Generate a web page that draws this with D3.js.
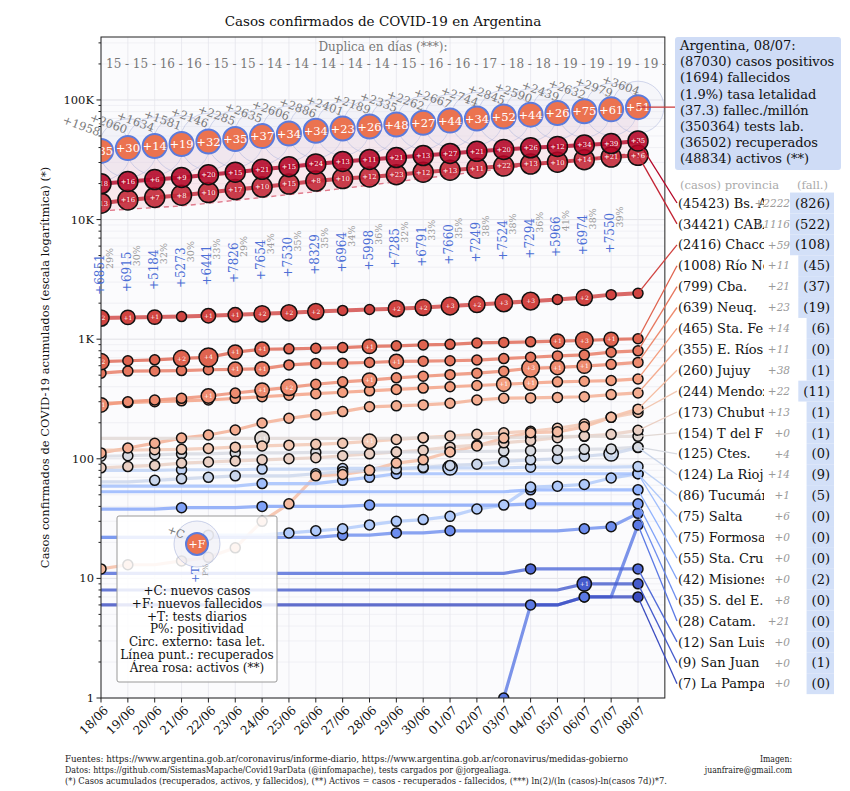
<!DOCTYPE html>
<html><head><meta charset="utf-8">
<script src="https://cdn.jsdelivr.net/npm/d3@7"></script>
<style>body{margin:0;background:#fff} svg{font-family:"DejaVu Serif",serif}</style>
</head><body><svg id="c" width="850" height="791"></svg>
<script>
// ---------------- DATA ----------------
const dates = ["18/06","19/06","20/06","21/06","22/06","23/06","24/06","25/06","26/06","27/06","28/06","29/06","30/06","01/07","02/07","03/07","04/07","05/07","06/07","07/07","08/07"];
const totalCases = [37510,39570,41204,42785,44931,47216,49851,52457,55343,57744,59933,62268,64530,67197,69941,72786,75376,77815,80447,83426,87030];
const newCases = [1958,2060,1634,1581,2146,2285,2635,2606,2886,2401,2189,2335,2262,2667,2744,2845,2590,2439,2632,2979,3604];
const newDeaths = [35,30,14,19,32,35,37,34,34,23,26,48,27,44,34,52,44,26,75,61,51];
const totalDeaths = [948,978,992,1011,1043,1078,1115,1149,1183,1206,1232,1280,1307,1351,1385,1437,1481,1507,1582,1643,1694];
const recovered = [11800,12200,12600,13000,13700,14500,15300,16200,17100,18200,19400,20700,22100,23500,25100,26700,28300,29900,31500,33900,36502];
const dailyTests = [6851,6915,5184,5273,6441,7826,7654,7530,8329,6964,5998,7285,6791,7660,7249,7524,7294,5966,6974,7550,null];
const doublingDays = [15,15,16,16,15,15,14,14,14,14,14,15,16,16,17,18,18,19,19,19,19];
const testsLab = 350364;
const population = 45376763;

const provNames = ["Bs. As.","CABA","Chaco","Río Negro","Cba.","Neuq.","Sta. Fe","E. Ríos","Jujuy","Mendoza","Chubut","T del F","Ctes.","La Rioja","Tucumán","Salta","Formosa","Sta. Cruz","Misiones","S. del E.","Catam.","San Luis","San Juan","La Pampa"];
const provDeathsTotal = [826,522,108,45,37,19,6,0,1,11,1,1,0,9,5,0,0,0,2,0,0,0,1,0];

const pba = [19900,20800,21600,22500,23700,24900,26300,27700,29200,30600,31800,33000,34300,35700,37200,38600,39800,40900,42000,43201,45423];
const caba = [13700,14600,15300,16000,16800,17800,18700,19800,21000,22000,22700,23700,24900,25900,26900,28000,29100,30200,31700,33305,34421];
const chaco = [1500,1520,1530,1545,1570,1600,1630,1660,1700,1740,1770,1800,1840,1890,1950,2010,2080,2150,2230,2357,2416];
const rioNegro = [648,660,672,690,705,780,824,830,840,850,870,880,895,905,930,940,950,962,975,997,1008];
const cordoba = [520,541,543,546,555,560,565,609,627,630,638,651,655,660,669,688,706,725,739,778,799];
const neuquen = [282,300,310,320,335,355,375,395,420,440,455,475,490,505,520,540,571,580,595,616,639];
const santaFe = [290,295,300,305,310,320,330,340,350,360,370,380,390,400,410,420,430,440,445,451,465];
const entreRios = [112,123,135,149,158,174,199,218,233,248,272,277,282,291,310,321,323,326,330,344,355];
const jujuy = [12,13,13,14,15,18,30,42,72,74,80,92,98,114,128,149,165,168,185,222,260];
const mendoza = [118,118,119,120,122,125,128,130,132,135,140,145,150,155,160,165,170,180,195,222,244];
const chubut = [84,86,88,92,94,96,98,100,102,106,110,114,118,125,130,136,142,150,155,160,173];
const tierraDelFuego = [148,148,148,148,148,148,148,148,148,148,148,148,150,150,150,150,152,153,154,154,154];
const corrientes = [105,106,108,110,110,112,112,112,113,113,113,114,114,115,115,116,117,118,120,121,125];
const laRioja = [64,64,66,68,70,72,72,72,75,78,80,82,85,88,90,95,98,100,105,110,124];
const tucuman = [80,80,80,81,81,81,82,82,82,83,83,83,84,84,84,84,85,85,85,85,86];
const salta = [22,22,22,22,23,23,23,24,25,26,28,30,31,33,38,41,58,59,61,69,75];
const formosa = [59,59,59,59,59,59,62,62,62,66,70,75,75,75,75,75,75,75,75,75,75];
const santaCruz = [53,53,53,53,53,53,53,53,53,53,53,53,53,53,53,53,55,55,55,55,55];
const misiones = [38,38,38,39,39,39,40,40,40,40,41,41,41,41,41,41,42,42,42,42,42];
const santiago = [22,22,22,22,22,22,22,22,22,23,23,24,24,25,25,25,25,25,26,27,35];
const catamarca = [null,null,null,null,null,null,null,null,null,null,null,null,null,null,null,1,6,6,7,7,28];
const sanLuis = [11,11,11,11,11,11,11,11,11,11,11,11,11,11,11,11,12,12,12,12,12];
const sanJuan = [8,8,8,8,8,8,8,8,8,8,8,8,8,8,8,8,8,8,9,9,9];
const laPampa = [6,6,6,6,6,6,6,6,6,6,6,6,6,6,6,6,6,6,7,7,7];

const pbaDeaths = [18,16,6,9,20,15,21,15,24,13,11,21,13,27,21,20,26,12,34,39,35];
const cabaDeaths = [13,16,7,8,10,17,10,15,8,10,12,23,12,13,11,22,13,10,14,21,16];
const chacoDeaths = [2,1,1,0,1,1,2,2,2,0,0,2,2,3,2,3,3,0,2,0,0];
const rioNegroDeaths = [2,0,0,2,4,1,1,0,0,0,1,0,0,0,0,0,0,1,3,1,0];
const cordobaDeaths = [0,0,0,0,0,1,1,0,0,0,0,1,0,0,0,0,0,0,0,0,0];
const neuquenDeaths = [1,0,0,0,1,0,1,2,0,0,1,0,0,0,0,0,3,1,1,0,0];
// sparse deaths for other provinces: [province index, date index, deaths]
const otherDeaths = [[6,15,1],[6,16,1],[9,10,1],[11,6,1],[14,13,1],[13,19,1],[22,18,1]];

const legendLines = ["+C: nuevos casos","+F: nuevos fallecidos","+T: tests diarios","P%: positividad","Circ. externo: tasa let.","Línea punt.: recuperados","Área rosa: activos (**)"];
const footerLines = [
 "Fuentes: https://www.argentina.gob.ar/coronavirus/informe-diario, https://www.argentina.gob.ar/coronavirus/medidas-gobierno",
 "Datos: https://github.com/SistemasMapache/Covid19arData (@infomapache), tests cargados por @jorgealiaga.",
 "(*) Casos acumulados (recuperados, activos, y fallecidos), (**) Activos = casos - recuperados - fallecidos, (***) ln(2)/(ln (casos)-ln(casos 7d))*7."
];
const footerRight = ["Imagen:","juanfraire@gmail.com"];

// ---------------- BUILD ----------------
const provSeries = [pba,caba,chaco,rioNegro,cordoba,neuquen,santaFe,entreRios,jujuy,mendoza,chubut,tierraDelFuego,corrientes,laRioja,tucuman,salta,formosa,santaCruz,misiones,santiago,catamarca,sanLuis,sanJuan,laPampa];
const provDeathSeries = provSeries.map(()=>dates.map(()=>0));
[pbaDeaths,cabaDeaths,chacoDeaths,rioNegroDeaths,cordobaDeaths,neuquenDeaths].forEach((a,k)=>provDeathSeries[k]=a.slice());
otherDeaths.forEach(([p,i,n])=>provDeathSeries[p][i]=n);
const provs = provNames.map((n,k)=>({name:n,v:provSeries[k],d:provDeathSeries[k],fall:provDeathsTotal[k]}));

const svg = d3.select('#c');
const n = dates.length;
const x = d3.scaleLinear().domain([0,n-1]).range([101,638]);
const y = d3.scaleLog().domain([1,336000]).range([698,37]);
const L = x(0), R = x(n), T = 37, B = 698;
const cw = d3.piecewise(d3.interpolateRgb, ["#3b4cc0","#5977e3","#8db0fe","#b9d0f9","#dddcdc","#f5c4ac","#f49a7b","#de604d","#b40426"]);
const pcol = k => cw(1 - k/(provs.length-1));

// title
svg.append('text').attr('x',(L+R)/2).attr('y',26).attr('text-anchor','middle').attr('font-size',13.5).attr('fill','#111')
  .text('Casos confirmados de COVID-19 en Argentina');

// plot background
svg.append('rect').attr('x',L).attr('y',T).attr('width',R-L).attr('height',B-T).attr('fill','#fbfbfd');
const defs = svg.append('defs');
defs.append('clipPath').attr('id','clp').append('rect').attr('x',L).attr('y',T).attr('width',R-L).attr('height',B-T);

// grid
const grid = svg.append('g');
const minor=[], major=[];
for(let k=0;k<=5;k++){ major.push(10**k); for(let m=2;m<=9;m++){ const v=m*10**k; if(v<336000) minor.push(v);} }
grid.selectAll('.gm').data(minor).join('line').attr('x1',L).attr('x2',R).attr('y1',d=>y(d)).attr('y2',d=>y(d)).attr('stroke','#eeeef2').attr('stroke-width',0.8);
grid.selectAll('.gM').data(major).join('line').attr('x1',L).attr('x2',R).attr('y1',d=>y(d)).attr('y2',d=>y(d)).attr('stroke','#dcdce2').attr('stroke-width',0.8);
grid.selectAll('.gv').data(dates).join('line').attr('x1',(d,i)=>x(i)).attr('x2',(d,i)=>x(i)).attr('y1',T).attr('y2',B).attr('stroke','#e6e6ec').attr('stroke-width',0.8);

const pg = svg.append('g').attr('clip-path','url(#clp)');

// active area (pink) and recovered dashed line
pg.append('path').datum(dates.map((d,i)=>i))
  .attr('d', d3.area().x(i=>x(i)).y0(i=>y(recovered[i])).y1(i=>y(totalCases[i])))
  .attr('fill','#f3b8c6').attr('fill-opacity',0.28);
pg.append('path').datum(dates.map((d,i)=>i))
  .attr('d', d3.line().x(i=>x(i)).y(i=>y(recovered[i])))
  .attr('fill','none').attr('stroke','#e07a8c').attr('stroke-width',1.4).attr('stroke-dasharray','5,4');

// outer circles (letality)
const rLet = i => 18.6*Math.sqrt(totalDeaths[i]/totalCases[i]*100);
pg.selectAll('.outer').data(dates.map((d,i)=>i)).join('circle')
  .attr('cx',i=>x(i)).attr('cy',i=>y(totalCases[i])).attr('r',rLet)
  .attr('fill','#e4e4f0').attr('fill-opacity',0.22).attr('stroke','#a9b4dc').attr('stroke-opacity',0.5).attr('stroke-width',1);

// province lines
const line = d3.line().defined(v=>v!=null).x((v,i)=>x(i)).y(v=>y(v));
provs.forEach((p,k)=>{
  pg.append('path').datum(p.v).attr('d',line).attr('fill','none').attr('stroke',pcol(k))
    .attr('stroke-width',k<3?4:3.2).attr('stroke-opacity',0.8).attr('stroke-linejoin','round');
});
// province circles
const rDeath = d => d>0 ? Math.min(10,5+2.2*Math.sqrt(d)) : 5;
for(let k=provs.length-1;k>=0;k--){
  const p=provs[k];
  const pts=[];
  p.v.forEach((v,i)=>{
    if(v==null) return;
    const prev = i>0 ? p.v[i-1] : null;
    const changed = i===0 ? (p.v[1]!=null && p.v[1]>v) : (prev==null || v>prev);
    if(changed || p.d[i]>0 || i===n-1) pts.push({i,v,d:p.d[i]});
  });
  const gg = pg.append('g');
  gg.selectAll('circle').data(pts).join('circle').attr('cx',d=>x(d.i)).attr('cy',d=>y(d.v)).attr('r',d=>rDeath(d.d))
    .attr('fill',pcol(k)).attr('fill-opacity',k<2?0.88:1).attr('stroke','#111').attr('stroke-width',1.5);
  gg.selectAll('text').data(pts.filter(d=>d.d>0)).join('text').attr('x',d=>x(d.i)).attr('y',d=>y(d.v)).attr('dy','0.35em')
    .attr('text-anchor','middle').attr('font-size',k<2?6.8:6).attr('fill','#fff').text(d=>'+'+d.d);
}
// Argentina circles
pg.selectAll('.arg').data(dates.map((d,i)=>i)).join('circle')
  .attr('cx',i=>x(i)).attr('cy',i=>y(totalCases[i])).attr('r',12)
  .attr('fill','#eb7350').attr('stroke','#5b7bdc').attr('stroke-width',2);
pg.selectAll('.argt').data(dates.map((d,i)=>i)).join('text')
  .attr('x',i=>x(i)).attr('y',i=>y(totalCases[i])).attr('dy','0.36em').attr('text-anchor','middle')
  .attr('font-size',11.5).attr('fill','#fff').text(i=>'+'+newDeaths[i]);

// spines
svg.append('rect').attr('x',L).attr('y',T).attr('width',R-L).attr('height',B-T).attr('fill','none').attr('stroke','#222').attr('stroke-width',1);

// y axis ticks
const ax = svg.append('g');
ax.selectAll('.ytm').data(minor).join('line').attr('x1',L-2.5).attr('x2',L).attr('y1',d=>y(d)).attr('y2',d=>y(d)).attr('stroke','#222');
ax.selectAll('.ytM').data(major).join('line').attr('x1',L-4.5).attr('x2',L).attr('y1',d=>y(d)).attr('y2',d=>y(d)).attr('stroke','#222');
const fmt = d => d>=1000 ? (d/1000)+'K' : String(d);
ax.selectAll('.ytl').data(major).join('text').attr('x',L-7).attr('y',d=>y(d)).attr('dy','0.35em').attr('text-anchor','end')
  .attr('font-size',11.5).attr('fill','#111').text(fmt);
// x axis ticks
ax.selectAll('.xt').data(dates).join('line').attr('x1',(d,i)=>x(i)).attr('x2',(d,i)=>x(i)).attr('y1',B).attr('y2',B+4.5).attr('stroke','#222');
ax.selectAll('.xtl').data(dates).join('text').attr('transform',(d,i)=>`translate(${x(i)+5},${B+10}) rotate(-45)`)
  .attr('text-anchor','end').attr('dy','0.35em').attr('font-size',12).attr('fill','#111').text(d=>d);
// y label
svg.append('text').attr('transform',`translate(49,${(T+B)/2}) rotate(-90)`).attr('text-anchor','middle').attr('font-size',11.5)
  .attr('fill','#111').text('Casos confirmados de COVID-19 acumulados (escala logarítmica) (*)');

// doubling days
svg.append('text').attr('x',(L+R)/2).attr('y',51).attr('text-anchor','middle').attr('font-size',12).attr('fill','#777').text('Duplica en días (***):');
svg.selectAll('.dbl').data(doublingDays).join('text').attr('x',(d,i)=>x(i)+5).attr('y',68).attr('font-size',12).attr('fill','#777')
  .text(d=>d+' -');

// +C labels
svg.selectAll('.cl').data(dates.map((d,i)=>i)).join('text')
  .attr('transform',i=>`translate(${x(i)-0.66*rLet(i)},${y(totalCases[i])-0.85*rLet(i)}) rotate(20)`)
  .attr('text-anchor','middle').attr('dy','0.35em').attr('font-size',11.5).attr('fill','#7a7a7a').text(i=>'+'+newCases[i]);

// tests and positivity
const tIdx = dates.map((d,i)=>i).filter(i=>dailyTests[i]!=null);
const tBase = i => y(totalCases[i]/16);
svg.selectAll('.tl').data(tIdx).join('text').attr('transform',i=>`translate(${x(i)+3},${tBase(i)}) rotate(-90)`)
  .attr('font-size',12).attr('fill','#4d6fd6').text(i=>'+'+dailyTests[i]);
svg.selectAll('.pl').data(tIdx).join('text').attr('transform',i=>`translate(${x(i)+12},${tBase(i)-47}) rotate(-90)`)
  .attr('text-anchor','end').attr('font-size',9.5).attr('fill','#999').text(i=>Math.round(newCases[i]/dailyTests[i]*100)+'%');

// legend
const lg = svg.append('g');
lg.append('rect').attr('x',117).attr('y',516).attr('width',160).attr('height',166).attr('rx',2)
  .attr('fill','#fff').attr('fill-opacity',0.85).attr('stroke','#999').attr('stroke-width',1);
lg.append('circle').attr('cx',197).attr('cy',544).attr('r',23).attr('fill','#e4e4f0').attr('fill-opacity',0.4).attr('stroke','#a9b4dc').attr('stroke-opacity',0.6);
lg.append('circle').attr('cx',197).attr('cy',544).attr('r',11).attr('fill','#eb7350').attr('stroke','#5b7bdc').attr('stroke-width',2);
lg.append('text').attr('x',197).attr('y',544).attr('dy','0.36em').attr('text-anchor','middle').attr('font-size',11).attr('fill','#fff').text('+F');
lg.append('text').attr('transform','translate(176,532) rotate(20)').attr('text-anchor','middle').attr('dy','0.35em').attr('font-size',11).attr('fill','#7a7a7a').text('+C');
lg.append('text').attr('transform','translate(199,583) rotate(-90)').attr('font-size',11).attr('fill','#4d6fd6').text('+T');
lg.append('text').attr('transform','translate(208,576) rotate(-90)').attr('font-size',7.5).attr('fill','#999').text('P%');
lg.selectAll('.lt').data(legendLines).join('text').attr('x',197).attr('y',(d,i)=>595+i*12.8).attr('text-anchor','middle')
  .attr('font-size',12).attr('fill','#111').text(d=>d);

// right panel: Argentina box
const last = n-1;
const argLines = [
  `Argentina, ${dates[last]}:`,
  `(${totalCases[last]}) casos positivos`,
  `(${totalDeaths[last]}) fallecidos`,
  `(${(totalDeaths[last]/totalCases[last]*100).toFixed(1)}%) tasa letalidad`,
  `(${(totalDeaths[last]/population*1e6).toFixed(1)}) fallec./millón`,
  `(${testsLab}) tests lab.`,
  `(${recovered[last]}) recuperados`,
  `(${totalCases[last]-recovered[last]-totalDeaths[last]}) activos (**)`
];
svg.append('line').attr('x1',x(last)).attr('x2',676).attr('y1',y(totalCases[last])).attr('y2',y(totalCases[last])).attr('stroke','#c8383a').attr('stroke-width',1.3);
svg.append('rect').attr('x',675).attr('y',37).attr('width',166).attr('height',133).attr('rx',3).attr('fill','#cfdcf6');
svg.selectAll('.al').data(argLines).join('text').attr('x',680).attr('y',(d,i)=>50+i*16.2).attr('font-size',13).attr('fill','#111').text(d=>d);

svg.append('text').attr('x',680).attr('y',189).attr('font-size',11.5).attr('fill','#aaa').text('(casos) provincia');
svg.append('text').attr('x',828).attr('y',189).attr('text-anchor','end').attr('font-size',11.5).attr('fill','#aaa').text('(fall.)');

defs.append('clipPath').attr('id','nameclip').append('rect').attr('x',670).attr('y',190).attr('width',94).attr('height',510);
const rowY = k => 203 + k*20.9;
const rp = svg.append('g');
provs.forEach((p,k)=>{
  const lv = p.v[last];
  rp.append('line').attr('x1',x(last)).attr('y1',y(lv)).attr('x2',677).attr('y2',rowY(k)).attr('stroke',pcol(k)).attr('stroke-width',1.3);
});
const names = rp.append('g').attr('clip-path','url(#nameclip)');
provs.forEach((p,k)=>{
  const lv = p.v[last], pv = p.v[last-1]==null?0:p.v[last-1];
  names.append('text').attr('x',678).attr('y',rowY(k)).attr('dy','0.36em').attr('font-size',13).attr('fill','#111').text(`(${lv}) ${p.name}`);
  rp.append('text').attr('x',790).attr('y',rowY(k)).attr('dy','0.36em').attr('text-anchor','end').attr('font-size',10.5).attr('font-style','italic')
    .attr('fill','#9a9a9a').text('+'+(lv-pv));
  const ft = rp.append('text').attr('x',830).attr('y',rowY(k)).attr('dy','0.36em').attr('text-anchor','end').attr('font-size',13).attr('fill','#111').text(`(${p.fall})`);
  const w = ft.node().getComputedTextLength();
  rp.insert('rect',()=>ft.node()).attr('x',830-w-5).attr('y',rowY(k)-10.45).attr('width',w+9).attr('height',20.9).attr('fill','#d3e0f8');
});

// footer
const ft = svg.append('g').attr('font-family','"DejaVu Serif Condensed","DejaVu Serif",serif').attr('font-stretch','condensed');
const fw = [563,446,602];
footerLines.forEach((t,i)=>{
  ft.append('text').attr('x',65).attr('y',762+i*11).attr('font-size',8.6).attr('fill','#222')
    .attr('textLength',fw[i]).attr('lengthAdjust','spacingAndGlyphs').text(t);
});
footerRight.forEach((t,i)=>{
  ft.append('text').attr('x',792).attr('y',762+i*11).attr('text-anchor','end').attr('font-size',8.6).attr('fill','#222').text(t);
});
</script></body></html>
